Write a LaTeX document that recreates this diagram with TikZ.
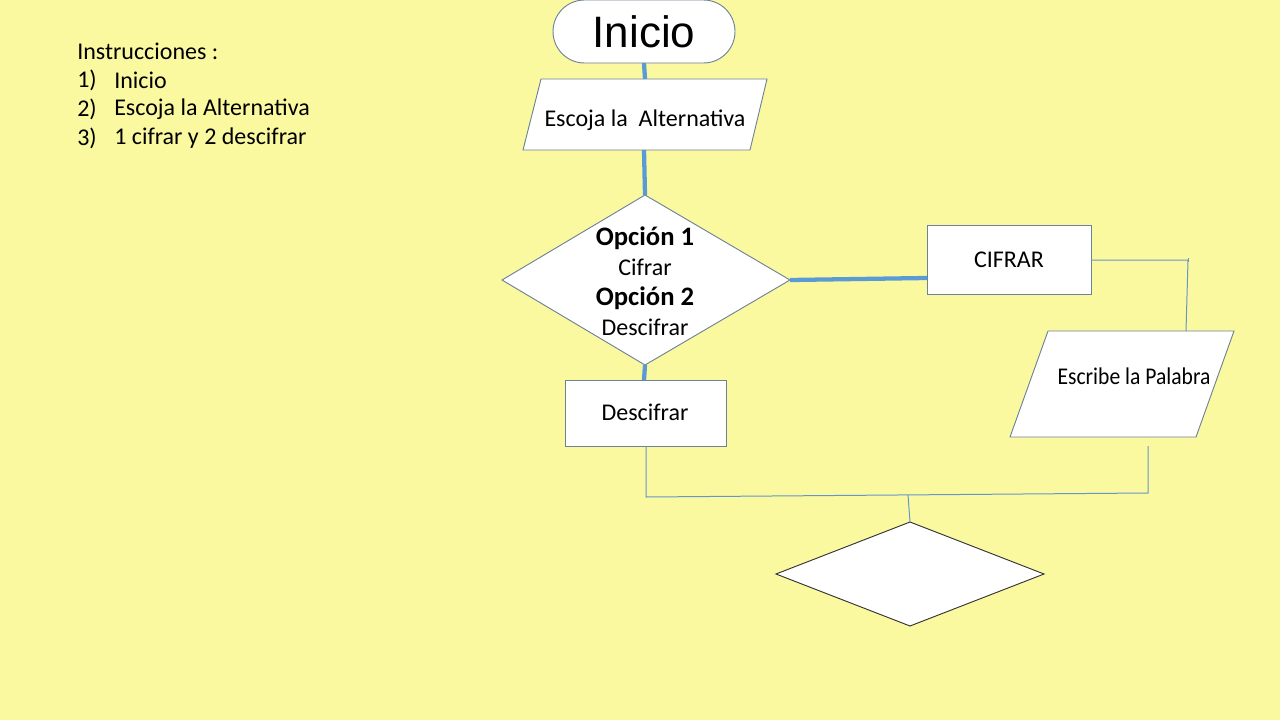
\documentclass[tikz,border=0pt]{standalone}
\usepackage{fontspec}
\setmainfont{Carlito}
\newfontfamily\arialf{Liberation Sans}
\definecolor{bg}{RGB}{251,249,160}
\definecolor{thick}{RGB}{91,155,213}
\definecolor{thin}{RGB}{100,150,200}
\definecolor{edge}{RGB}{110,130,150}
\tikzset{
  shapeline/.style={draw=edge, line width=0.7pt, fill=white},
  thickline/.style={draw=thick, line width=3.2pt},
  thinline/.style={draw=thin, line width=0.75pt},
  txt/.style={inner sep=0pt, font=\fontsize{18}{22}\selectfont},
}
\begin{document}
\begin{tikzpicture}[x=0.75pt, y=-0.75pt]
\useasboundingbox (0,0) rectangle (1280,720);
\fill[bg] (0,0) rectangle (1280,720);

% instructions
\node[txt, anchor=west] (ins) at (77,51) {Instrucciones :};
\node[txt, anchor=west] (n1) at (77,80) {1)};
\node[txt, anchor=west] (i1) at (114,80) {Inicio};
\node[txt, anchor=west] (n2) at (77,109) {2)};
\node[txt, anchor=west] (i2) at (114,109) {Escoja la Alternativa};
\node[txt, anchor=west] (n3) at (77,138) {3)};
\node[txt, anchor=west] (i3) at (114,138) {1 cifrar y 2 descifrar};

% shapes
\draw[shapeline, rounded corners=31.5*0.75pt] (553,0) rectangle (735,63);
\draw[shapeline] (541,79) -- (767,79) -- (750,150) -- (523,150) -- cycle;
\draw[shapeline] (645,195) -- (790,280) -- (645,365) -- (502,280) -- cycle;
\draw[shapeline] (927,225) rectangle (1091,294);
\draw[shapeline] (1048,331) -- (1234,331) -- (1196,437) -- (1010,437) -- cycle;
\draw[shapeline] (565,380) rectangle (726,446);
\draw[draw=black!80, line width=0.7pt, fill=white] (910,522) -- (1044,574) -- (910,626) -- (776,574) -- cycle;

% anchors
\coordinate (inicioS) at (644,63);
\coordinate (escojaN) at (645,79);
\coordinate (escojaS) at (644,150);
\coordinate (opN) at (645,195);
\coordinate (opE) at (790,280);
\coordinate (opS) at (645,365);
\coordinate (cifW) at (927,278);
\coordinate (cifE) at (1091,260);
\coordinate (cifT) at (1188,260);
\coordinate (escrN) at (1186,331);
\coordinate (escrS) at (1148,446);
\coordinate (descN) at (644,380);
\coordinate (descS) at (646,446);
\coordinate (join) at (908,495);
\coordinate (finN) at (910,522);

% texts
\node[inner sep=0pt, font=\arialf\fontsize{33}{36}\selectfont] (inicio) at (644,32) {Inicio};
\node[txt] (escoja) at (645,120) {Escoja la\ \ Alternativa};
\node[txt, align=center, font=\fontsize{18}{22.5}\selectfont] (opcion) at (645,281)
  {{\fontsize{20}{22.5}\selectfont\bfseries Opción 1}\\Cifrar\\{\fontsize{20}{22.5}\selectfont\bfseries Opción 2}\\Descifrar};
\node[txt] (cifrar) at (1009,260) {CIFRAR};
\node[txt] (escribe) at (1134,376) {\scalebox{0.9}[1]{Escribe la Palabra}};
\node[txt] (descifrar) at (645,412) {Descifrar};

% connectors
\draw[thickline] (inicioS) -- (escojaN);
\draw[thickline] (escojaS) -- (opN);
\draw[thickline] (opE) -- (cifW);
\draw[thickline] (opS) -- (descN);
\draw[thinline] (cifE) -- (cifT) -- (escrN);
\draw[thinline] (cifT) ++(0,-2) -- ++(0,4);
\draw[thinline] (descS) -- (646,497) -- (1148,493) -- (escrS);
\draw[thinline] (join) -- (finN);
\end{tikzpicture}
\end{document}
